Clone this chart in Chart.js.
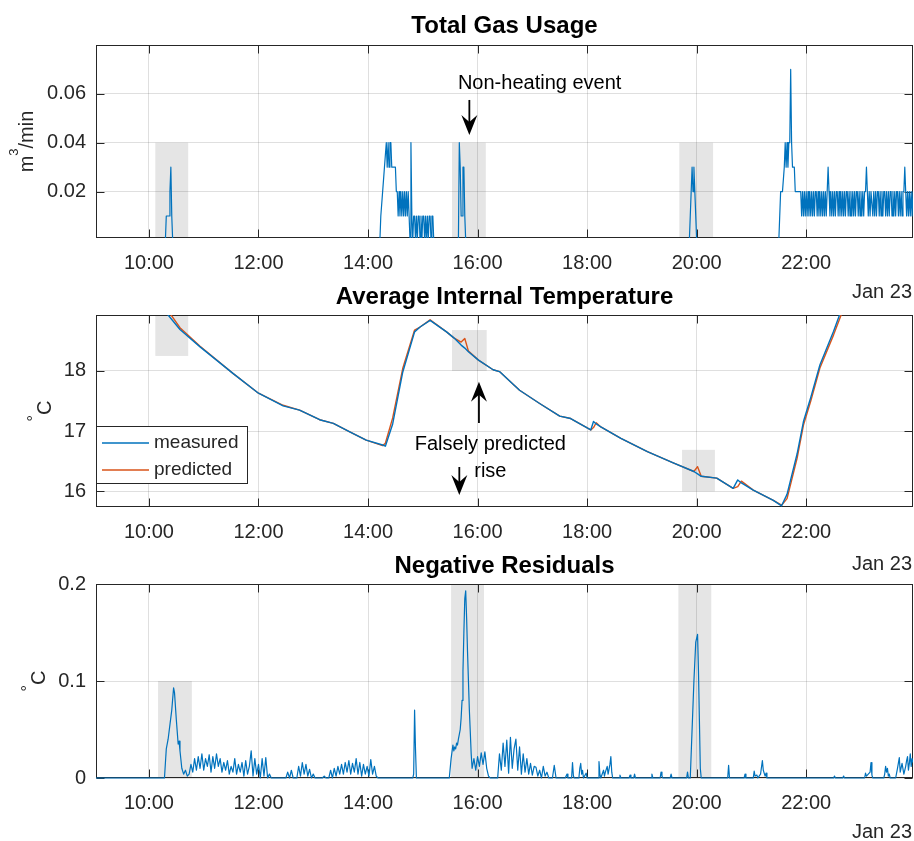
<!DOCTYPE html>
<html>
<head>
<meta charset="utf-8">
<title>Gas usage and internal temperature, Jan 23</title>
<script src="https://cdn.jsdelivr.net/npm/chart.js@4.4.1/dist/chart.umd.min.js"></script>
<style>
  html, body { margin: 0; padding: 0; background: #fff; }
  #figure { position: relative; width: 914px; height: 841px; overflow: hidden; }
  #figure canvas { position: absolute; left: 0; }
</style>
</head>
<body>
<div id="figure">
  <canvas id="gasChart" width="914" height="300" style="top:0"></canvas>
  <canvas id="tempChart" width="914" height="295" style="top:280px"></canvas>
  <canvas id="residChart" width="914" height="296" style="top:545px"></canvas>
</div>
<script>
// time axis is minutes after midnight
const timeMin = 542;
const timeMax = 1437;
const timeTicks = [600, 720, 840, 960, 1080, 1200, 1320];

const gasTicks = [0.02, 0.04, 0.06];
const gasTickLabels = ['0.02', '0.04', '0.06'];
const tempTicks = [16, 17, 18];
const tempTickLabels = ['16', '17', '18'];
const residTicks = [0, 0.1, 0.2];
const residTickLabels = ['0', '0.1', '0.2'];

// [minute, m3/min]
const gasUsage = [
  [542, 0], [618, 0], [619, 0.01], [620, 0.01], [621, 0.01], [622, 0.01], [623, 0.02], [624, 0.03], [625, 0.01], [626, 0],
  [853, 0], [854, 0.01], [856, 0.02], [858, 0.03], [860, 0.04], [861, 0.03], [862, 0.04], [863, 0.03], [864, 0.04], [865, 0.04],
  [866, 0.03], [867, 0.03], [868, 0.03], [869, 0.03], [870, 0.03], [871, 0.02], [872, 0.02], [873, 0.01], [874, 0.02], [875, 0.01],
  [876, 0.02], [877, 0.01], [878, 0.02], [879, 0.01], [880, 0.02], [881, 0.01], [882, 0.02], [883, 0.01], [884, 0.02], [885, 0.01],
  [886, 0], [887, 0.04], [888, 0.01], [889, 0], [890, 0.01], [891, 0.01], [892, 0], [893, 0.01], [894, 0], [895, 0.01],
  [896, 0.01], [897, 0], [898, 0.01], [899, 0], [900, 0.01], [901, 0.01], [902, 0], [903, 0.01], [904, 0], [905, 0.01],
  [906, 0], [907, 0.01], [908, 0.01], [909, 0], [910, 0.01], [911, 0.01], [912, 0],
  [939, 0], [940, 0.04], [941, 0.03], [942, 0.01], [943, 0.01], [944, 0.03], [945, 0.03], [946, 0.01], [947, 0],
  [1192, 0], [1195, 0.03], [1196, 0.02], [1197, 0.03], [1198, 0.02], [1200, 0],
  [1290, 0], [1292, 0.02], [1294, 0.02], [1296, 0.03], [1297, 0.04], [1298, 0.03], [1299, 0.04], [1300, 0.03], [1301, 0.04], [1302, 0.04],
  [1303, 0.07], [1304, 0.04], [1305, 0.03], [1306, 0.03], [1307, 0.03], [1308, 0.02], [1309, 0.02], [1310, 0.02], [1311, 0.02], [1312, 0.02],
  [1313, 0.02], [1314, 0.02], [1315, 0.01], [1316, 0.02], [1317, 0.01], [1318, 0.02], [1319, 0.01], [1320, 0.02], [1321, 0.01], [1322, 0.02],
  [1323, 0.01], [1324, 0.02], [1325, 0.01], [1326, 0.02], [1327, 0.01], [1328, 0.02], [1329, 0.01], [1330, 0.02], [1331, 0.02], [1332, 0.01],
  [1333, 0.02], [1334, 0.01], [1335, 0.02], [1336, 0.01], [1337, 0.02], [1338, 0.01], [1339, 0.02], [1340, 0.01], [1341, 0.02], [1342, 0.01],
  [1343, 0.02], [1344, 0.03], [1345, 0.02], [1346, 0.01], [1347, 0.02], [1348, 0.01], [1349, 0.02], [1350, 0.01], [1351, 0.02], [1352, 0.01],
  [1353, 0.02], [1354, 0.02], [1355, 0.01], [1356, 0.02], [1357, 0.01], [1358, 0.02], [1359, 0.01], [1360, 0.02], [1361, 0.01], [1362, 0.02],
  [1363, 0.01], [1364, 0.02], [1365, 0.02], [1366, 0.01], [1367, 0.02], [1368, 0.01], [1369, 0.02], [1370, 0.01], [1371, 0.02], [1372, 0.01],
  [1373, 0.02], [1374, 0.01], [1375, 0.02], [1376, 0.02], [1377, 0.01], [1378, 0.02], [1379, 0.01], [1380, 0.02], [1381, 0.01], [1382, 0.02],
  [1383, 0.01], [1384, 0.02], [1385, 0.02], [1386, 0.03], [1387, 0.02], [1388, 0.01], [1389, 0.02], [1390, 0.01], [1391, 0.02], [1392, 0.02],
  [1393, 0.01], [1394, 0.02], [1395, 0.01], [1396, 0.02], [1397, 0.01], [1398, 0.02], [1399, 0.02], [1400, 0.01], [1401, 0.02], [1402, 0.01],
  [1403, 0.02], [1404, 0.01], [1405, 0.02], [1406, 0.02], [1407, 0.01], [1408, 0.02], [1409, 0.01], [1410, 0.02], [1411, 0.01], [1412, 0.02],
  [1413, 0.02], [1414, 0.01], [1415, 0.02], [1416, 0.01], [1417, 0.02], [1418, 0.01], [1419, 0.02], [1420, 0.02], [1421, 0.01], [1422, 0.02],
  [1423, 0.01], [1424, 0.02], [1425, 0.01], [1426, 0.02], [1427, 0.02], [1428, 0.03], [1429, 0.02], [1430, 0.01], [1431, 0.02], [1432, 0.01],
  [1433, 0.02], [1434, 0.01], [1435, 0.02], [1436, 0.01], [1437, 0.02]
];

const tempTime = [
  600, 621, 634, 656, 692, 720, 747, 765, 787, 802,
  820, 838, 856, 859, 867, 878, 891, 897, 908, 926,
  934, 942, 946, 950, 961, 977, 984, 1006, 1028, 1050,
  1062, 1084, 1087, 1090, 1095, 1117, 1146, 1175, 1197, 1201,
  1205, 1222, 1240, 1245, 1249, 1262, 1284, 1293, 1299, 1310,
  1317, 1325, 1335, 1350, 1357, 1370
];
const tempMeasured = [
  19.25, 18.93, 18.69, 18.40, 17.96, 17.63, 17.42, 17.35, 17.19, 17.13,
  16.99, 16.85, 16.77, 16.75, 17.12, 17.98, 18.65, 18.73, 18.84, 18.65,
  18.55, 18.43, 18.38, 18.32, 18.18, 18.02, 17.99, 17.68, 17.46, 17.25,
  17.21, 17.02, 17.16, 17.12, 17.07, 16.88, 16.66, 16.47, 16.33, 16.29,
  16.25, 16.22, 16.05, 16.19, 16.14, 16.02, 15.85, 15.76, 15.95, 16.62,
  17.16, 17.56, 18.10, 18.66, 18.95, 19.45
];
const tempPredicted = [
  19.30, 19.00, 18.72, 18.41, 17.96, 17.63, 17.43, 17.35, 17.19, 17.13,
  16.99, 16.85, 16.76, 16.80, 17.22, 18.04, 18.68, 18.73, 18.85, 18.65,
  18.55, 18.48, 18.54, 18.33, 18.18, 18.02, 17.99, 17.68, 17.46, 17.25,
  17.21, 17.02, 17.06, 17.14, 17.07, 16.88, 16.66, 16.47, 16.33, 16.41,
  16.25, 16.22, 16.05, 16.08, 16.17, 16.02, 15.85, 15.77, 15.88, 16.55,
  17.10, 17.50, 18.05, 18.60, 18.88, 19.40
];

// [minute, degC]
const negResiduals = [
  [542, 0], [615, 0], [617, 0], [619, 0.03], [621, 0.04], [623, 0.055], [625, 0.07], [627, 0.093], [628, 0.088], [630, 0.06],
  [632, 0.035], [633, 0.038], [634, 0.028], [636, 0.01], [638, 0.004], [640, 0.008], [642, 0.002],
  [644, 0.004], [646, 0.014], [648, 0.006], [650, 0.02], [652, 0.008], [654, 0.022], [656, 0.01], [658, 0.025], [660, 0.008], [662, 0.02],
  [664, 0.012], [666, 0.024], [668, 0.006], [670, 0.022], [672, 0.01], [674, 0.025], [676, 0.012], [678, 0.02], [680, 0.006], [682, 0.016],
  [684, 0.008], [686, 0.018], [688, 0.004], [690, 0.012], [692, 0.006], [694, 0.02], [696, 0.004], [698, 0.014], [700, 0.006], [702, 0.016],
  [704, 0.002], [706, 0.018], [708, 0.004], [710, 0.012], [712, 0.028], [714, 0.002], [716, 0.02], [718, 0.004], [720, 0.014], [722, 0],
  [724, 0.02], [726, 0.002], [728, 0.021], [730, 0], [732, 0.004], [734, 0],
  [750, 0], [752, 0.006], [754, 0], [756, 0.008], [758, 0], [762, 0], [764, 0.012], [766, 0.002], [768, 0.016], [770, 0.004],
  [772, 0.014], [774, 0.002], [776, 0.009], [778, 0], [780, 0.004], [782, 0], [790, 0], [792, 0.002], [794, 0],
  [797, 0], [799, 0.008], [801, 0], [803, 0.01], [805, 0.002], [807, 0.012], [809, 0.004], [811, 0.014], [813, 0.004], [815, 0.016],
  [817, 0.006], [819, 0.018], [821, 0.004], [823, 0.015], [825, 0.006], [827, 0.02], [829, 0.004], [831, 0.016], [833, 0.002], [835, 0.014],
  [837, 0.004], [839, 0.012], [841, 0.002], [843, 0.019], [845, 0.004], [847, 0.012], [849, 0.002], [851, 0],
  [889, 0], [890, 0.004], [891, 0.07], [892, 0.03], [893, 0],
  [929, 0], [931, 0.02], [933, 0.034], [934, 0.028], [935, 0.032], [936, 0.03], [937, 0.036], [938, 0.034], [939, 0.04], [940, 0.045],
  [941, 0.05], [942, 0.062], [943, 0.08], [944, 0.11], [945, 0.15], [946, 0.185], [947, 0.193], [948, 0.165], [949, 0.13], [950, 0.1],
  [951, 0.07], [952, 0.048], [953, 0.025], [954, 0.01], [956, 0.02], [958, 0.008], [960, 0.022], [962, 0.012], [964, 0.026], [966, 0.014],
  [968, 0.027], [970, 0.01], [972, 0.002], [974, 0],
  [982, 0], [984, 0.025], [986, 0.008], [988, 0.036], [990, 0.012], [992, 0.039], [994, 0.005], [996, 0.042], [998, 0.01], [1000, 0.03],
  [1002, 0.04], [1004, 0.008], [1006, 0.032], [1008, 0.004], [1010, 0.025], [1012, 0.006], [1014, 0.02], [1016, 0.004], [1018, 0.015], [1020, 0.003],
  [1022, 0.012], [1024, 0.011], [1026, 0.002], [1028, 0.008], [1030, 0], [1032, 0.012], [1034, 0.002], [1036, 0.006], [1038, 0], [1042, 0],
  [1044, 0.013], [1046, 0],
  [1056, 0], [1058, 0.004], [1059, 0], [1063, 0], [1064, 0.016], [1065, 0.002], [1066, 0], [1071, 0], [1072, 0.01], [1073, 0.015],
  [1074, 0.004], [1075, 0.008], [1076, 0], [1079, 0.005], [1080, 0], [1092, 0], [1093, 0.017], [1094, 0.004], [1095, 0], [1098, 0.008],
  [1099, 0.002], [1100, 0.006], [1102, 0.012], [1103, 0.004], [1105, 0.014], [1106, 0.022], [1107, 0.006], [1108, 0], [1115, 0], [1116, 0.003],
  [1117, 0], [1126, 0], [1127, 0.003], [1128, 0], [1131, 0], [1132, 0.004], [1133, 0], [1150, 0], [1151, 0.004], [1152, 0],
  [1160, 0], [1161, 0.006], [1162, 0.002], [1163, 0], [1171, 0], [1172, 0.004], [1173, 0], [1189, 0], [1190, 0.006], [1191, 0],
  [1193, 0], [1195, 0.05], [1197, 0.1], [1199, 0.14], [1201, 0.148], [1202, 0.11], [1203, 0.06], [1204, 0.01], [1205, 0],
  [1234, 0], [1235, 0.013], [1236, 0], [1252, 0], [1253, 0.004], [1254, 0], [1262, 0], [1263, 0.007], [1264, 0.002], [1266, 0.003],
  [1267, 0], [1270, 0.004], [1272, 0.018], [1273, 0.008], [1275, 0.002], [1276, 0.005], [1277, 0],
  [1350, 0], [1351, 0.002], [1352, 0], [1360, 0], [1361, 0.002], [1362, 0], [1384, 0], [1385, 0.005], [1386, 0.002], [1388, 0.004],
  [1390, 0.006], [1391, 0.016], [1392, 0.003], [1393, 0], [1405, 0], [1406, 0.004], [1407, 0.012], [1408, 0.006], [1409, 0.01], [1410, 0.002],
  [1411, 0.004], [1412, 0], [1418, 0], [1420, 0.01], [1422, 0.021], [1423, 0.006], [1425, 0.015], [1427, 0.004], [1429, 0.012], [1430, 0.018],
  [1431, 0.022], [1432, 0.008], [1433, 0.015], [1434, 0.025], [1435, 0.012], [1436, 0.02], [1437, 0.016]
];

// shaded windows: [start minute, end minute, low, high]
const gasWindows = [[607, 643, 0, 0.04], [932, 969, 0, 0.04], [1181, 1218, 0, 0.04]];
const tempWindows = [[607, 643, 18.25, 19.5], [932, 970, 18.0, 18.68], [1184, 1220, 16.0, 16.69]];
const residWindows = [[610, 647, 0, 0.1], [931, 967, 0, 0.2], [1180, 1216, 0, 0.2]];

const FONT = '"Liberation Sans", Arial, Helvetica, sans-serif';
const TEXT = '#262626';
const GRID = 'rgba(38,38,38,0.15)';
const BLUE = '#0072BD';
const ORANGE = '#D95319';

function clock(m) {
  return Math.floor(m / 60) + ':' + String(m % 60).padStart(2, '0');
}

function toXY(pairs) {
  return pairs.map(([x, y]) => ({x, y}));
}

// vertical arrow with a notched head at y1
function arrow(ctx, x, y0, y1) {
  const dir = y1 > y0 ? 1 : -1;
  ctx.lineWidth = 1.8;
  ctx.beginPath();
  ctx.moveTo(x, y0);
  ctx.lineTo(x, y1 - dir * 12);
  ctx.stroke();
  ctx.beginPath();
  ctx.moveTo(x, y1);
  ctx.lineTo(x - 8, y1 - dir * 20);
  ctx.lineTo(x, y1 - dir * 13);
  ctx.lineTo(x + 8, y1 - dir * 20);
  ctx.closePath();
  ctx.fill();
}

// rotated y label built from pieces so superscripts can be raised
function sideLabel(ctx, parts, baseX, cy) {
  const widths = parts.map(p => {
    ctx.font = p.size + 'px ' + FONT;
    return ctx.measureText(p.t).width;
  });
  const total = widths.reduce((a, b) => a + b, 0);
  ctx.save();
  ctx.translate(baseX, cy);
  ctx.rotate(-Math.PI / 2);
  ctx.textAlign = 'left';
  ctx.textBaseline = 'alphabetic';
  ctx.fillStyle = TEXT;
  let pos = -total / 2;
  parts.forEach((p, i) => {
    ctx.font = p.size + 'px ' + FONT;
    ctx.fillText(p.t, pos, -p.raise);
    pos += widths[i];
  });
  ctx.restore();
}

function panelDecor(cfg) {
  return {
    id: 'panelDecor',
    beforeDraw(chart) {
      const {ctx, chartArea: a, scales: {x, y}} = chart;
      ctx.save();
      ctx.beginPath();
      ctx.rect(a.left, a.top, a.width, a.height);
      ctx.clip();
      ctx.fillStyle = '#e5e5e5';
      cfg.windows.forEach(([t0, t1, lo, hi]) => {
        const x0 = x.getPixelForValue(t0), x1 = x.getPixelForValue(t1);
        const y0 = y.getPixelForValue(hi), y1 = y.getPixelForValue(lo);
        ctx.fillRect(x0, y0, x1 - x0, y1 - y0);
      });
      ctx.restore();
    },
    beforeDatasetsDraw(chart) {
      // axes box with inward ticks on all four sides
      const {ctx, chartArea: a, scales: {x, y}} = chart;
      const L = Math.round(a.left) + 0.5, R = Math.round(a.right) - 0.5;
      const T = Math.round(a.top) + 0.5, B = Math.round(a.bottom) - 0.5;
      ctx.save();
      ctx.strokeStyle = TEXT;
      ctx.lineWidth = 1;
      ctx.strokeRect(L, T, R - L, B - T);
      ctx.beginPath();
      x.ticks.forEach(t => {
        const px = Math.round(x.getPixelForValue(t.value)) + 0.5;
        ctx.moveTo(px, B); ctx.lineTo(px, B - 8);
        ctx.moveTo(px, T); ctx.lineTo(px, T + 8);
      });
      y.ticks.forEach(t => {
        const py = Math.round(y.getPixelForValue(t.value)) + 0.5;
        ctx.moveTo(L, py); ctx.lineTo(L + 8, py);
        ctx.moveTo(R, py); ctx.lineTo(R - 8, py);
      });
      ctx.stroke();
      ctx.restore();
    },
    afterDraw(chart) {
      const {ctx, chartArea: a, scales: {x, y}} = chart;
      ctx.save();
      ctx.fillStyle = '#000';
      ctx.font = 'bold 24px ' + FONT;
      ctx.textAlign = 'center';
      ctx.textBaseline = 'alphabetic';
      ctx.fillText(cfg.title, (a.left + a.right) / 2, cfg.titleBase);

      ctx.fillStyle = TEXT;
      ctx.font = '20px ' + FONT;
      ctx.textAlign = 'right';
      ctx.fillText('Jan 23', a.right - 1, cfg.dateBase);

      sideLabel(ctx, cfg.yLabel, cfg.yLabelX, (a.top + a.bottom) / 2);

      ctx.fillStyle = '#000';
      ctx.strokeStyle = '#000';
      ctx.font = '20px ' + FONT;
      ctx.textAlign = 'center';
      (cfg.notes || []).forEach(n => {
        ctx.fillText(n.text, x.getPixelForValue(n.x), y.getPixelForValue(n.y));
      });
      (cfg.arrows || []).forEach(r => {
        arrow(ctx, x.getPixelForValue(r.x), y.getPixelForValue(r.from), y.getPixelForValue(r.to));
      });

      if (cfg.legend) {
        const g = cfg.legend;
        ctx.fillStyle = '#fff';
        ctx.fillRect(g.left, g.top, g.width, g.height);
        ctx.strokeStyle = TEXT;
        ctx.lineWidth = 1;
        ctx.strokeRect(g.left + 0.5, g.top + 0.5, g.width, g.height);
        ctx.font = '19px ' + FONT;
        ctx.textAlign = 'left';
        ctx.textBaseline = 'middle';
        chart.data.datasets.forEach((ds, i) => {
          const cy = g.top + g.firstRow + i * g.rowGap;
          ctx.strokeStyle = ds.borderColor;
          ctx.lineWidth = 1.5;
          ctx.beginPath();
          ctx.moveTo(g.left + 6, cy);
          ctx.lineTo(g.left + 53, cy);
          ctx.stroke();
          ctx.fillStyle = TEXT;
          ctx.fillText(ds.label, g.left + 58, cy);
        });
      }
      ctx.restore();
    }
  };
}

function makePanel(id, cfg) {
  const el = document.getElementById(id);
  const axisHeight = el.height - cfg.areaBottom;
  return new Chart(el, {
    type: 'line',
    data: {datasets: cfg.datasets},
    options: {
      responsive: false,
      animation: false,
      devicePixelRatio: 1,
      events: [],
      parsing: false,
      layout: {padding: {top: cfg.areaTop, left: 0, right: 1, bottom: 0}},
      elements: {
        line: {borderWidth: cfg.lineWidth || 1.2, tension: 0, fill: false, borderJoinStyle: 'round'},
        point: {radius: 0}
      },
      plugins: {legend: {display: false}, tooltip: {enabled: false}},
      scales: {
        x: {
          type: 'linear',
          min: timeMin,
          max: timeMax,
          afterBuildTicks: s => { s.ticks = timeTicks.map(v => ({value: v})); },
          afterFit: s => { s.height = axisHeight; },
          ticks: {
            autoSkip: false, maxRotation: 0, padding: 13, color: TEXT,
            font: {family: FONT, size: 20},
            callback: v => clock(v)
          },
          grid: {color: GRID, drawTicks: false},
          border: {display: false}
        },
        y: {
          type: 'linear',
          min: cfg.yMin,
          max: cfg.yMax,
          afterBuildTicks: s => { s.ticks = cfg.yTicks.map(v => ({value: v})); },
          afterFit: s => { s.width = 96; },
          ticks: {
            autoSkip: false, padding: 10, color: TEXT,
            font: {family: FONT, size: 20},
            callback: (v, i) => cfg.yTickLabels[i]
          },
          grid: {color: GRID, drawTicks: false},
          border: {display: false}
        }
      }
    },
    plugins: [panelDecor(cfg)]
  });
}

makePanel('gasChart', {
  areaTop: 45, areaBottom: 238,
  yMin: 0.001, yMax: 0.08, yTicks: gasTicks, yTickLabels: gasTickLabels,
  datasets: [{label: 'gas', data: toXY(gasUsage), borderColor: BLUE, clip: 0}],
  windows: gasWindows,
  title: 'Total Gas Usage', titleBase: 33, dateBase: 298,
  yLabel: [{t: 'm', size: 20, raise: 0}, {t: '3', size: 13, raise: 15}, {t: '/min', size: 20, raise: 0}],
  yLabelX: 33,
  notes: [{text: 'Non-heating event', x: 1028, y: 0.0619}],
  arrows: [{x: 951, from: 0.0575, to: 0.0432}]
});

makePanel('tempChart', {
  areaTop: 35, areaBottom: 227, lineWidth: 1.4,
  yMin: 15.74, yMax: 18.93, yTicks: tempTicks, yTickLabels: tempTickLabels,
  datasets: [
    {label: 'measured', data: tempTime.map((t, i) => ({x: t, y: tempMeasured[i]})), borderColor: BLUE, clip: 0},
    {label: 'predicted', data: tempTime.map((t, i) => ({x: t, y: tempPredicted[i]})), borderColor: ORANGE, clip: 0}
  ],
  windows: tempWindows,
  title: 'Average Internal Temperature', titleBase: 24, dateBase: 290,
  yLabel: [{t: '\u00b0', size: 16, raise: 12}, {t: 'C', size: 20, raise: 0}],
  yLabelX: 51,
  notes: [
    {text: 'Falsely predicted', x: 974, y: 16.687},
    {text: 'rise', x: 974, y: 16.233}
  ],
  arrows: [
    {x: 961.5, from: 17.136, to: 17.82},
    {x: 940, from: 16.405, to: 15.94}
  ],
  legend: {left: 96, top: 146, width: 151, height: 57, firstRow: 17, rowGap: 27}
});

makePanel('residChart', {
  areaTop: 39, areaBottom: 233,
  yMin: 0, yMax: 0.2, yTicks: residTicks, yTickLabels: residTickLabels,
  datasets: [{label: 'residual', data: toXY(negResiduals), borderColor: BLUE, clip: {left: 0, right: 0, top: 0, bottom: 2}}],
  windows: residWindows,
  title: 'Negative Residuals', titleBase: 28, dateBase: 293,
  yLabel: [{t: '\u00b0', size: 16, raise: 12}, {t: 'C', size: 20, raise: 0}],
  yLabelX: 45
});
</script>
</body>
</html>
